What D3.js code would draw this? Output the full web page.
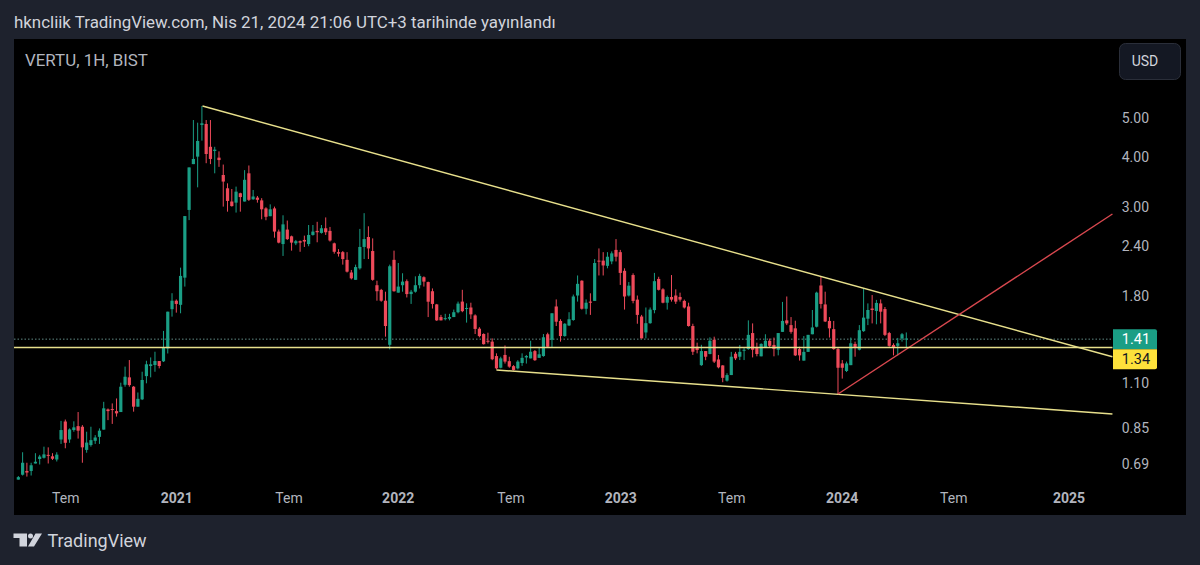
<!DOCTYPE html>
<html lang="en">
<head>
  <meta charset="UTF-8" />
  <title>VERTU, 1H, BIST</title>
  <style>
    body {
      margin: 0;
      background: #1e222d;
      overflow: hidden;
    }

    svg {
      display: block;
      font-family: Roboto, sans-serif;
    }

    .tick text {
      fill: #b2b5be;
      font-size: 14px;
    }

    .tick text.year {
      font-weight: 700;
    }
  </style>
</head>
<body>
  <svg width="1200" height="565"></svg>

  <script src="https://cdnjs.cloudflare.com/ajax/libs/d3/7.8.5/d3.min.js"></script>
  <script>
    // Weekly candles, first week starts 2020-04-17
    const firstWeek = new Date(Date.UTC(2020, 3, 17));

    const opens = [
      .631, .649, .663, .663, .692, .710, .715, .727, .721, .708,
      .794, .880, .794, .838, .857, .854, .748, .769, .788, .806,
      .840, .943, .945, .934, .929, 1.086, 1.133, 1.074, .958, .999,
      1.141, 1.209, 1.216, 1.244, 1.242, 1.337, 1.674, 1.757, 1.716, 2.005,
      2.954, 3.84, 4.008, 4.805, 4.832, 4.24, 4.14, 3.985, 3.608, 3.344,
      3.10, 3.08, 3.25, 3.10, 3.643, 3.14, 3.17, 3.12, 2.98, 2.85,
      2.98, 2.61, 2.43, 2.64, 2.54, 2.44, 2.47, 2.488, 2.43, 2.56,
      2.62, 2.59, 2.66, 2.62, 2.44, 2.32, 2.32, 2.22, 2.065, 1.98,
      2.115, 2.39, 2.53, 2.335, 1.92, 1.869, 1.757, 1.365, 2.22, 1.84,
      1.92, 1.965, 1.825, 1.85, 1.92, 2.01, 1.955, 1.855, 1.72, 1.60,
      1.585, 1.585, 1.60, 1.645, 1.748, 1.68, 1.69, 1.615, 1.497, 1.452,
      1.397, 1.39, 1.28, 1.197, 1.288, 1.243, 1.208, 1.193, 1.23, 1.27,
      1.263, 1.317, 1.267, 1.28, 1.45, 1.405, 1.70, 1.565, 1.435, 1.525,
      1.573, 1.81, 1.97, 1.678, 1.748, 1.755, 2.21, 2.21, 2.145, 2.20,
      2.35, 2.32, 2.085, 1.81, 2.035, 1.768, 1.605, 1.465, 1.545, 1.665,
      1.99, 1.875, 1.737, 1.795, 1.81, 1.795, 1.755, 1.70, 1.52, 1.35,
      1.215, 1.317, 1.295, 1.405, 1.255, 1.213, 1.112, 1.148, 1.297, 1.275,
      1.322, 1.332, 1.46, 1.34, 1.278, 1.346, 1.397, 1.364, 1.327, 1.47,
      1.57, 1.528, 1.50, 1.332, 1.247, 1.311, 1.45, 1.514, 1.917, 1.72,
      1.565, 1.493, 1.332, 1.227, 1.175, 1.215, 1.372, 1.327, 1.476, 1.585,
      1.68, 1.657, 1.73, 1.675, 1.46, 1.364, 1.357, 1.415, 1.408
    ];

    const closes = [
      .640, .695, .657, .685, .699, .720, .729, .723, .711, .728,
      .838, .779, .841, .851, .835, .759, .780, .791, .803, .835,
      .949, .934, .941, .922, 1.074, 1.137, 1.084, .958, 1.002, 1.116,
      1.221, 1.221, 1.244, 1.209, 1.342, 1.650, 1.757, 1.725, 2.025, 2.852,
      3.768, 3.955, 4.384, 4.850, 4.069, 3.955, 4.172, 3.93, 3.475, 3.11,
      3.02, 3.28, 3.18, 3.51, 3.13, 3.19, 3.13, 2.965, 2.84, 2.965,
      2.61, 2.45, 2.72, 2.50, 2.45, 2.47, 2.45, 2.465, 2.56, 2.61,
      2.60, 2.66, 2.60, 2.48, 2.325, 2.30, 2.23, 2.075, 1.997, 2.13,
      2.39, 2.50, 2.37, 1.98, 1.855, 1.757, 1.52, 2.14, 1.855, 1.905,
      1.96, 1.825, 1.85, 1.92, 2.025, 1.96, 1.747, 1.725, 1.57, 1.57,
      1.59, 1.60, 1.645, 1.728, 1.655, 1.685, 1.625, 1.495, 1.435, 1.37,
      1.39, 1.257, 1.193, 1.263, 1.24, 1.205, 1.182, 1.24, 1.267, 1.28,
      1.312, 1.25, 1.293, 1.425, 1.35, 1.635, 1.558, 1.435, 1.54, 1.58,
      1.80, 1.935, 1.678, 1.737, 1.737, 2.18, 2.20, 2.15, 2.26, 2.304,
      2.26, 2.06, 1.80, 1.915, 1.755, 1.62, 1.416, 1.545, 1.67, 1.965,
      1.87, 1.737, 1.795, 1.768, 1.748, 1.768, 1.69, 1.52, 1.312, 1.325,
      1.317, 1.275, 1.397, 1.24, 1.2, 1.13, 1.148, 1.275, 1.263, 1.311,
      1.327, 1.445, 1.327, 1.295, 1.372, 1.397, 1.357, 1.332, 1.46, 1.565,
      1.543, 1.47, 1.285, 1.285, 1.311, 1.445, 1.508, 1.84, 1.725, 1.56,
      1.50, 1.332, 1.197, 1.197, 1.227, 1.377, 1.346, 1.484, 1.595, 1.666,
      1.666, 1.735, 1.65, 1.445, 1.357, 1.34, 1.377, 1.45, 1.415
    ];

    const highs = [
      .644, .738, .695, .695, .734, .727, .762, .759, .734, .738,
      .883, .890, .846, .881, .929, .862, .830, .854, .814, .846,
      .985, .948, .976, 1.004, 1.099, 1.205, 1.251, 1.078, 1.039, 1.170,
      1.246, 1.270, 1.312, 1.244, 1.478, 1.650, 1.834, 1.770, 2.123, 2.852,
      3.768, 4.942, 4.868, 5.355, 4.942, 4.942, 4.24, 4.131, 3.83, 3.44,
      3.33, 3.376, 3.26, 3.71, 3.81, 3.312, 3.20, 3.16, 3.0, 3.05,
      3.011, 2.64, 2.865, 2.78, 2.55, 2.488, 2.48, 2.55, 2.71, 2.71,
      2.76, 2.71, 2.83, 2.68, 2.45, 2.36, 2.335, 2.32, 2.095, 2.16,
      2.65, 2.90, 2.69, 2.51, 1.97, 1.88, 1.85, 2.16, 2.34, 2.18,
      2.056, 1.985, 1.869, 2.02, 2.05, 2.02, 1.96, 1.885, 1.725, 1.62,
      1.63, 1.63, 1.67, 1.748, 1.87, 1.731, 1.737, 1.625, 1.51, 1.458,
      1.463, 1.416, 1.30, 1.275, 1.36, 1.275, 1.215, 1.25, 1.30, 1.288,
      1.397, 1.325, 1.343, 1.452, 1.463, 1.635, 1.77, 1.58, 1.545, 1.645,
      1.82, 2.03, 1.975, 1.77, 1.833, 2.23, 2.37, 2.32, 2.32, 2.33,
      2.50, 2.35, 2.115, 1.955, 2.055, 1.81, 1.62, 1.69, 1.69, 2.06,
      2.015, 1.887, 1.81, 2.035, 1.875, 1.84, 1.768, 1.737, 1.54, 1.382,
      1.365, 1.317, 1.425, 1.43, 1.288, 1.215, 1.16, 1.311, 1.311, 1.363,
      1.34, 1.57, 1.543, 1.382, 1.377, 1.45, 1.415, 1.423, 1.46, 1.745,
      1.80, 1.60, 1.567, 1.35, 1.435, 1.445, 1.666, 1.85, 2.016, 1.85,
      1.60, 1.565, 1.346, 1.251, 1.24, 1.423, 1.39, 1.528, 1.88, 1.73,
      1.815, 1.765, 1.77, 1.695, 1.47, 1.377, 1.42, 1.46, 1.465
    ];

    const lows = [
      .631, .646, .642, .646, .692, .688, .712, .692, .706, .700,
      .774, .755, .779, .830, .798, .695, .736, .762, .774, .774,
      .840, .887, .868, .905, .929, 1.074, 1.074, .931, .958, .995,
      1.095, 1.133, 1.170, 1.193, 1.237, 1.299, 1.604, 1.641, 1.635, 1.905,
      2.787, 3.84, 3.362, 4.392, 3.86, 3.84, 3.643, 3.78, 3.011, 2.925,
      3.011, 2.91, 2.925, 3.10, 3.11, 3.13, 3.08, 2.80, 2.785, 2.85,
      2.52, 2.44, 2.27, 2.488, 2.34, 2.415, 2.325, 2.39, 2.40, 2.55,
      2.455, 2.58, 2.56, 2.465, 2.30, 2.262, 2.16, 2.065, 1.985, 1.98,
      2.10, 2.23, 2.23, 1.97, 1.757, 1.747, 1.43, 1.33, 1.85, 1.84,
      1.85, 1.79, 1.725, 1.84, 1.885, 1.905, 1.60, 1.68, 1.565, 1.57,
      1.57, 1.57, 1.60, 1.635, 1.645, 1.55, 1.583, 1.452, 1.425, 1.367,
      1.375, 1.25, 1.186, 1.193, 1.226, 1.197, 1.178, 1.186, 1.21, 1.226,
      1.263, 1.245, 1.267, 1.275, 1.345, 1.345, 1.52, 1.39, 1.43, 1.52,
      1.567, 1.748, 1.67, 1.625, 1.62, 1.755, 2.03, 2.03, 2.115, 2.165,
      2.20, 1.923, 1.67, 1.80, 1.731, 1.54, 1.416, 1.416, 1.54, 1.635,
      1.863, 1.731, 1.67, 1.748, 1.725, 1.748, 1.68, 1.515, 1.288, 1.30,
      1.21, 1.25, 1.293, 1.23, 1.193, 1.102, 1.106, 1.148, 1.251, 1.251,
      1.251, 1.327, 1.27, 1.278, 1.278, 1.346, 1.346, 1.278, 1.285, 1.47,
      1.528, 1.455, 1.28, 1.247, 1.247, 1.311, 1.45, 1.508, 1.68, 1.555,
      1.423, 1.327, 1.03, 1.125, 1.168, 1.215, 1.275, 1.322, 1.47, 1.528,
      1.543, 1.535, 1.543, 1.435, 1.35, 1.285, 1.285, 1.39, 1.34
    ];

    const priceTicks = [5, 4, 3, 2.4, 1.8, 1.1, 0.85, 0.69];
    // Labels sit on the weekly bar nearest the date, so they are not exactly on the 1st
    const timeTicks = ["2020-07-03", "2021-01-01", "2021-07-04", "2021-12-30", "2022-07-03", "2022-12-30", "2023-06-30", "2023-12-28", "2024-06-28", "2025-01-03"];
    const timeLabels = ["Tem", "2021", "Tem", "2022", "Tem", "2023", "Tem", "2024", "Tem", "2025"];

    // Drawn trend lines as [date, price] pairs
    const upperLine = [["2021-02-13", 5.355], ["2025-03-16", 1.275]];
    const lowerLine = [["2022-06-10", 1.182], ["2025-03-16", 0.919]];
    const flatLine = [["2020-04-01", 1.344], ["2025-03-16", 1.344]];
    const redLine = [["2023-12-22", 1.03], ["2025-03-16", 2.886]];

    const lastPrice = 1.41;
    const lineLabel = "1.34";

    const green = "#1a9e85";
    const red = "#ee4a5a";
    const yellow = "#e8e08c";

    const plot = { left: 14, right: 1186, top: 39, bottom: 515 };
    const lineEnd = 1112.5;

    const svg = d3.select("svg");

    const x = d3.scaleUtc()
      .domain([new Date("2021-01-01"), new Date("2025-01-01")])
      .range([176.3, 1067.3]);

    const y = d3.scaleLog()
      .domain([5, 0.69])
      .range([118, 464]);

    const candles = opens.map((open, i) => ({
      date: d3.utcDay.offset(firstWeek, 7 * i),
      open,
      close: closes[i],
      high: highs[i],
      low: lows[i]
    }));

    const candleColor = d => d.close >= d.open ? green : red;

    // Header
    svg.append("text")
      .attr("x", 14)
      .attr("y", 28)
      .attr("fill", "#d1d4dc")
      .style("font-size", "16.9px")
      .text("hkncliik TradingView.com, Nis 21, 2024 21:06 UTC+3 tarihinde yayınlandı");

    svg.append("rect")
      .attr("x", plot.left)
      .attr("y", plot.top)
      .attr("width", plot.right - plot.left)
      .attr("height", plot.bottom - plot.top)
      .attr("fill", "#000");

    svg.append("text")
      .attr("x", 25)
      .attr("y", 65.5)
      .attr("fill", "#b2b5be")
      .style("font-size", "16.9px")
      .text("VERTU, 1H, BIST");

    // Last price dotted line goes under the candles
    svg.append("line")
      .attr("x1", plot.left)
      .attr("x2", lineEnd)
      .attr("y1", y(lastPrice))
      .attr("y2", y(lastPrice))
      .attr("stroke", "#5f8a84")
      .attr("stroke-width", 1)
      .attr("stroke-dasharray", "1.5 2");

    // Candles
    const candle = svg.append("g")
      .selectAll("g")
      .data(candles)
      .join("g");

    candle.append("line")
      .attr("x1", d => x(d.date))
      .attr("x2", d => x(d.date))
      .attr("y1", d => y(d.high))
      .attr("y2", d => y(d.low))
      .attr("stroke", candleColor)
      .attr("stroke-width", 1);

    candle.append("rect")
      .attr("x", d => x(d.date) - 1.6)
      .attr("width", 3.2)
      .attr("y", d => y(Math.max(d.open, d.close)))
      .attr("height", d => Math.max(1, y(Math.min(d.open, d.close)) - y(Math.max(d.open, d.close))))
      .attr("fill", candleColor);

    // Trend lines
    const trend = d3.line()
      .x(d => x(new Date(d[0])))
      .y(d => y(d[1]));

    [[upperLine, yellow], [lowerLine, yellow], [redLine, "#d9484f"]].forEach(([points, color]) => {
      svg.append("path")
        .attr("d", trend(points))
        .attr("fill", "none")
        .attr("stroke", color)
        .attr("stroke-width", 1.4);
    });

    svg.append("line")
      .attr("x1", plot.left)
      .attr("x2", lineEnd)
      .attr("y1", y(flatLine[0][1]))
      .attr("y2", y(flatLine[1][1]))
      .attr("stroke", yellow)
      .attr("stroke-width", 1.4);

    // Axes
    const timeAxis = d3.axisBottom(x)
      .tickValues(timeTicks.map(d => new Date(d)))
      .tickSize(0)
      .tickPadding(0)
      .tickFormat((d, i) => timeLabels[i]);

    const timeGroup = svg.append("g")
      .attr("transform", "translate(0,489)")
      .call(timeAxis);
    timeGroup.select(".domain").remove();
    timeGroup.selectAll(".tick text")
      .attr("dy", "13.5")
      .classed("year", (d, i) => timeLabels[i] !== "Tem")
      .style("font-family", "Roboto, sans-serif");

    const priceAxis = d3.axisRight(y)
      .tickValues(priceTicks)
      .tickSize(0)
      .tickPadding(0)
      .tickFormat(d3.format(".2f"));

    const priceGroup = svg.append("g")
      .attr("transform", "translate(1149,0)")
      .call(priceAxis);
    priceGroup.select(".domain").remove();
    priceGroup.selectAll(".tick text")
      .attr("text-anchor", "end")
      .style("font-family", "Roboto, sans-serif");

    // Price labels, the second one is pushed below the first
    const labelTop = y(lastPrice) - 10;
    svg.append("path")
      .attr("d", "M1113 " + labelTop + "h42a2 2 0 0 1 2 2v18h-44z")
      .attr("fill", "#1a9e85");
    svg.append("path")
      .attr("d", "M1113 " + (labelTop + 20) + "h44v18a2 2 0 0 1 -2 2h-42z")
      .attr("fill", "#fde13b");
    svg.append("text")
      .attr("x", 1136)
      .attr("y", labelTop + 15)
      .attr("text-anchor", "middle")
      .attr("fill", "#fff")
      .style("font-size", "14.5px")
      .text(d3.format(".2f")(lastPrice));
    svg.append("text")
      .attr("x", 1136)
      .attr("y", labelTop + 35)
      .attr("text-anchor", "middle")
      .attr("fill", "#131722")
      .style("font-size", "14.5px")
      .text(lineLabel);

    // USD button
    svg.append("rect")
      .attr("x", 1119.5)
      .attr("y", 43.5)
      .attr("width", 61)
      .attr("height", 36)
      .attr("rx", 6)
      .attr("fill", "#141823")
      .attr("stroke", "#2a2e39");
    svg.append("text")
      .attr("x", 1145)
      .attr("y", 66)
      .attr("text-anchor", "middle")
      .attr("fill", "#d1d4dc")
      .style("font-size", "14px")
      .text("USD");

    // TradingView logo
    svg.append("path")
      .attr("d", "M13.5 533.5h13.5v13h-7.5v-8.5h-6z M35.5 533.5h6.5l-8 13h-6z")
      .attr("fill", "#d1d4dc");
    svg.append("circle")
      .attr("cx", 30.5)
      .attr("cy", 536)
      .attr("r", 2.5)
      .attr("fill", "#d1d4dc");
    svg.append("text")
      .attr("x", 47.5)
      .attr("y", 547)
      .attr("fill", "#d1d4dc")
      .style("font-size", "18px")
      .text("TradingView");
  </script>
</body>
</html>
